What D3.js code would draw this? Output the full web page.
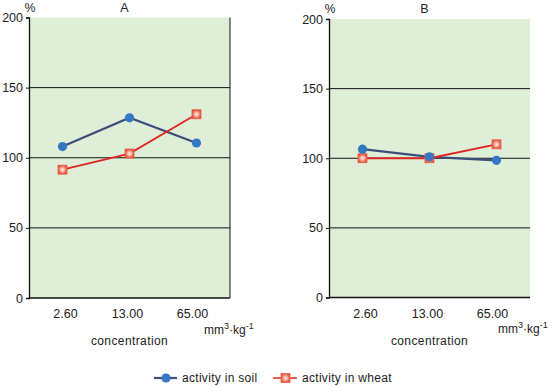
<!DOCTYPE html>
<html><head><meta charset="utf-8">
<script src="https://cdn.jsdelivr.net/npm/d3@7"></script>
<style>
body{margin:0;background:#fff;}
text{font-family:"Liberation Sans",Arial,sans-serif;fill:#222;}
</style></head>
<body>
<svg id="c" width="552" height="387"></svg>
<script>
const categories = ["2.60", "13.00", "65.00"];
const yTicks = [0, 50, 100, 150, 200];
const panels = ["A", "B"];
const soilA = [108, 128.5, 110.5];
const wheatA = [91.5, 103, 131];
const soilB = [106.5, 101, 98.5];
const wheatB = [100, 100, 110];
const seriesNames = ["activity in soil", "activity in wheat"];
const unitLabel = "mm";
const xTitle = "concentration";

const svg = d3.select("#c");
const defs = svg.append("defs");
const grad = defs.append("radialGradient").attr("id","sq");
grad.append("stop").attr("offset","0%").attr("stop-color","#fff4ee");
grad.append("stop").attr("offset","55%").attr("stop-color","#f5a08a");
grad.append("stop").attr("offset","100%").attr("stop-color","#e4503a");

const cfg = [
  {name:panels[0], soil:soilA, wheat:wheatA, x0:29, x1:230, y0:298, y1:17.5, rightBorder:true, unitDx:-26, unitDy:36},
  {name:panels[1], soil:soilB, wheat:wheatB, x0:329, x1:530, y0:297.5, y1:19, rightBorder:false, unitDx:-32, unitDy:35}
];

function drawSquare(g, x, y){
  g.append("rect").attr("x",x-4.5).attr("y",y-4.5).attr("width",9).attr("height",9)
   .attr("fill","url(#sq)").attr("stroke","#e8604a").attr("stroke-width",0.8);
}
function drawCircle(g, x, y){
  g.append("circle").attr("cx",x).attr("cy",y).attr("r",4.6).attr("fill","#3478c4");
}

cfg.forEach(p => {
  const x = d3.scaleBand().domain(categories).range([p.x0, p.x1]);
  const y = d3.scaleLinear().domain([0,200]).range([p.y0, p.y1]);
  const cx = d => x(d) + x.bandwidth()/2;
  const g = svg.append("g");
  g.append("rect").attr("x",p.x0).attr("y",p.y1).attr("width",p.x1-p.x0).attr("height",p.y0-p.y1).attr("fill","#dfeed6");
  yTicks.filter(t=>t>0 && t<200).forEach(t=>{
    g.append("line").attr("x1",p.x0).attr("x2",p.x1).attr("y1",y(t)).attr("y2",y(t)).attr("stroke","#111").attr("stroke-width",1);
  });
  const ax = d3.axisLeft(y).tickValues(yTicks).tickSize(3).tickFormat(d3.format("d"));
  const axg = g.append("g").attr("transform",`translate(${p.x0},0)`).call(ax);
  axg.select(".domain").attr("stroke","#111").attr("stroke-width",1.3);
  axg.selectAll(".tick line").attr("stroke","#111");
  axg.selectAll("text").attr("font-size",12.5).attr("fill","#222").attr("x",-6)
     .style("font-family","Liberation Sans, Arial, sans-serif");
  g.append("line").attr("x1",p.x0).attr("x2",p.x1).attr("y1",p.y0).attr("y2",p.y0).attr("stroke","#111").attr("stroke-width",1.3);
  if (p.rightBorder) g.append("line").attr("x1",p.x1).attr("x2",p.x1).attr("y1",p.y1).attr("y2",p.y0).attr("stroke","#111").attr("stroke-width",1);
  categories.forEach((c,i)=>{
    g.append("text").attr("x",cx(c)+[3,-2,-4][i]).attr("y",p.y0+20).attr("text-anchor","middle").attr("font-size",12.5).text(c);
  });
  const ut = g.append("text").attr("x",p.x1+p.unitDx).attr("y",p.y0+p.unitDy).attr("font-size",12);
  ut.append("tspan").text(unitLabel);
  ut.append("tspan").attr("dy",-5).attr("font-size",9).text("3");
  ut.append("tspan").attr("dy",5).text("·kg");
  ut.append("tspan").attr("dy",-5).attr("font-size",9).text("-1");
  g.append("text").attr("x",(p.x0+p.x1)/2).attr("y",p.y0+47).attr("text-anchor","middle").attr("font-size",12).attr("letter-spacing",0.4).text(xTitle);
  g.append("text").attr("x",p.x0+1).attr("y",p.y1-6).attr("text-anchor","middle").attr("font-size",12).text("%");
  g.append("text").attr("x",(p.x0+p.x1)/2-5).attr("y",p.y1-6).attr("text-anchor","middle").attr("font-size",12.5).text(p.name);
  const line = d3.line().x((d,i)=>cx(categories[i])).y(d=>y(d));
  g.append("path").attr("d",line(p.soil)).attr("fill","none").attr("stroke","#3d4d7a").attr("stroke-width",2.2);
  g.append("path").attr("d",line(p.wheat)).attr("fill","none").attr("stroke","#e02424").attr("stroke-width",1.8);
  p.wheat.forEach((v,i)=>drawSquare(g, cx(categories[i]), y(v)));
  p.soil.forEach((v,i)=>drawCircle(g, cx(categories[i]), y(v)));
});

const lg = svg.append("g");
lg.append("line").attr("x1",154).attr("x2",177).attr("y1",378).attr("y2",378).attr("stroke","#3d4d7a").attr("stroke-width",2.2);
drawCircle(lg,166,378);
lg.append("text").attr("x",182).attr("y",382).attr("font-size",12).attr("letter-spacing",0.3).text(seriesNames[0]);
lg.append("line").attr("x1",273).attr("x2",297).attr("y1",378).attr("y2",378).attr("stroke","#e02424").attr("stroke-width",1.5);
drawSquare(lg,285.5,378);
lg.append("text").attr("x",302).attr("y",382).attr("font-size",12).attr("letter-spacing",0.3).text(seriesNames[1]);
</script>
</body></html>
